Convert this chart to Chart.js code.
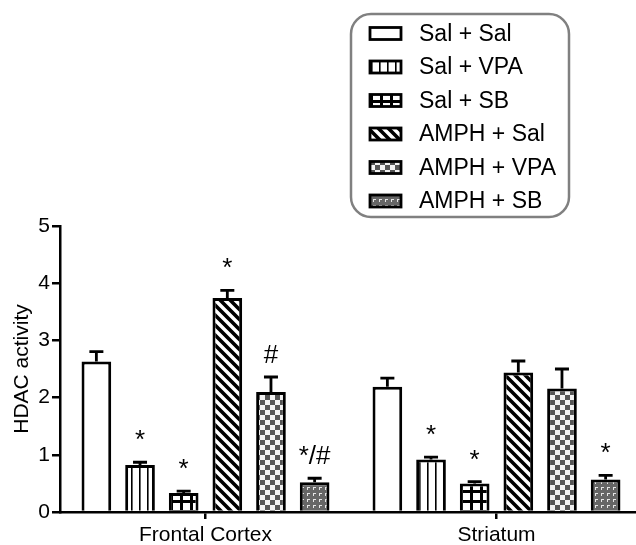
<!DOCTYPE html>
<html>
<head>
<meta charset="utf-8">
<script src="https://cdn.jsdelivr.net/npm/chart.js@4.4.1/dist/chart.umd.min.js"></script>
<style>
  body { margin: 0; background: #fff; overflow: hidden; }
  #wrap { width: 636px; height: 545px; overflow: hidden; }
</style>
</head>
<body>
<div id="wrap"><canvas id="myChart" width="642" height="545"></canvas></div>
<script>
'use strict';

// data

let regions = ['Frontal Cortex', 'Striatum'];
let groupNames = ['Sal + Sal', 'Sal + VPA', 'Sal + SB', 'AMPH + Sal', 'AMPH + VPA', 'AMPH + SB'];

// mean HDAC activity per group (frontal cortex, striatum)
let salSal = [2.63, 2.19];
let salVpa = [0.82, 0.92];
let salSb = [0.33, 0.50];
let amphSal = [3.74, 2.44];
let amphVpa = [2.10, 2.16];
let amphSb = [0.52, 0.57];

// upper error (SEM)
let salSalErr = [0.175, 0.15];
let salVpaErr = [0.05, 0.04];
let salSbErr = [0.035, 0.03];
let amphSalErr = [0.135, 0.2];
let amphVpaErr = [0.26, 0.34];
let amphSbErr = [0.07, 0.07];

// significance marks above the bars
let salSalMarks = ['', ''];
let salVpaMarks = ['*', '*'];
let salSbMarks = ['*', '*'];
let amphSalMarks = ['*', ''];
let amphVpaMarks = ['#', ''];
let amphSbMarks = ['*/#', '*'];

let yTicks = [0, 1, 2, 3, 4, 5];

let allMeans = [salSal, salVpa, salSb, amphSal, amphVpa, amphSb];
let allErrs = [salSalErr, salVpaErr, salSbErr, amphSalErr, amphVpaErr, amphSbErr];
let allMarks = [salSalMarks, salVpaMarks, salSbMarks, amphSalMarks, amphVpaMarks, amphSbMarks];

const fontFamily = 'Arial, "Liberation Sans", Helvetica, sans-serif';
Chart.defaults.font.family = fontFamily;
Chart.defaults.color = '#000';

// Dom References
let canvas = document.getElementById('myChart');
let ctx = canvas.getContext('2d');

// fill patterns, one small tile each
function makePattern(size, draw) {
  let tile = document.createElement('canvas');
  tile.width = size;
  tile.height = size;
  let t = tile.getContext('2d');
  draw(t, size);
  return ctx.createPattern(tile, 'repeat');
}

let patterns = [
  '#ffffff',
  // vertical lines
  makePattern(8, function (t, s) {
    t.fillStyle = '#fff'; t.fillRect(0, 0, s, s);
    t.fillStyle = '#000'; t.fillRect(3, 0, 1.6, s);
  }),
  // thick grid
  makePattern(10, function (t, s) {
    t.fillStyle = '#fff'; t.fillRect(0, 0, s, s);
    t.fillStyle = '#000';
    t.fillRect(0, 0, s, 3);
    t.fillRect(0, 0, 3, s);
  }),
  // diagonal stripes
  makePattern(10, function (t, s) {
    t.fillStyle = '#fff'; t.fillRect(0, 0, s, s);
    t.strokeStyle = '#000'; t.lineWidth = 3.6;
    t.beginPath();
    t.moveTo(-2, -2); t.lineTo(s + 2, s + 2);
    t.moveTo(-2, s - 2); t.lineTo(2, s + 2);
    t.moveTo(s - 2, -2); t.lineTo(s + 2, 2);
    t.stroke();
  }),
  // checkerboard
  makePattern(10, function (t, s) {
    t.fillStyle = '#f2f2f2'; t.fillRect(0, 0, s, s);
    t.fillStyle = '#555';
    t.fillRect(0, 0, 5, 5);
    t.fillRect(5, 5, 5, 5);
  }),
  // gray with small white marks
  makePattern(6, function (t, s) {
    t.fillStyle = '#666'; t.fillRect(0, 0, s, s);
    t.fillStyle = '#e6e6e6';
    t.fillRect(1, 1, 3, 1);
    t.fillRect(1, 1, 1, 3);
  })
];

let datasets = [];
for (let i = 0; i < groupNames.length; i++) {
  datasets.push({
    label: groupNames[i],
    data: allMeans[i],
    backgroundColor: patterns[i],
    borderColor: '#000',
    borderWidth: 3,
    borderSkipped: 'start',
    categoryPercentage: 0.9,
    barPercentage: 0.68
  });
}

// error bars and significance marks
const errorBarPlugin = {
  id: 'errorBars',
  afterDatasetsDraw(chart) {
    let c = chart.ctx;
    let yScale = chart.scales.y;
    c.save();
    c.strokeStyle = '#000';
    c.lineWidth = 2.8;
    c.fillStyle = '#000';
    c.font = '26px ' + fontFamily;
    c.textAlign = 'center';
    c.textBaseline = 'alphabetic';
    chart.data.datasets.forEach(function (ds, i) {
      let meta = chart.getDatasetMeta(i);
      meta.data.forEach(function (bar, j) {
        let top = yScale.getPixelForValue(allMeans[i][j] + allErrs[i][j]);
        c.beginPath();
        c.moveTo(bar.x, bar.y);
        c.lineTo(bar.x, top);
        c.moveTo(bar.x - 7, top);
        c.lineTo(bar.x + 7, top);
        c.stroke();
        if (allMarks[i][j]) {
          c.fillText(allMarks[i][j], bar.x, top - 14);
        }
      });
    });
    c.restore();
  }
};

// boxed legend in the top right
const legendBoxPlugin = {
  id: 'legendBox',
  afterDraw(chart) {
    let c = chart.ctx;
    c.save();
    c.strokeStyle = '#808080';
    c.lineWidth = 2.5;
    c.beginPath();
    c.roundRect(351, 14, 218, 203, 20);
    c.stroke();

    c.font = '23px ' + fontFamily;
    c.textBaseline = 'middle';
    c.textAlign = 'left';
    chart.data.datasets.forEach(function (ds, i) {
      let cy = 33.5 + i * 33.5;
      c.fillStyle = ds.backgroundColor;
      c.fillRect(370, cy - 6, 31, 12);
      c.strokeStyle = '#000';
      c.lineWidth = 2.8;
      c.strokeRect(370, cy - 6, 31, 12);
      c.fillStyle = '#000';
      c.fillText(ds.label, 419, cy + 1);
    });
    c.restore();
  }
};

let myChart = new Chart(ctx, {
  type: 'bar',
  data: {
    labels: regions,
    datasets: datasets
  },
  options: {
    responsive: false,
    animation: false,
    layout: {
      padding: { top: 226, right: 0, left: 0, bottom: 0 }
    },
    plugins: {
      legend: { display: false },
      tooltip: { enabled: false }
    },
    scales: {
      x: {
        grid: {
          offset: false,
          drawOnChartArea: false,
          tickLength: 7,
          color: '#000',
          lineWidth: 2.5
        },
        border: { color: '#000', width: 2.5 },
        ticks: {
          font: { size: 21 },
          padding: 4
        },
        afterFit(scale) {
          scale.height = 33;
        }
      },
      y: {
        min: 0,
        max: 5,
        afterBuildTicks(scale) {
          scale.ticks = yTicks.map(function (v) { return { value: v }; });
        },
        grid: {
          drawOnChartArea: false,
          tickLength: 8,
          color: '#000',
          lineWidth: 2.5
        },
        border: { color: '#000', width: 2.5 },
        ticks: {
          font: { size: 21 },
          padding: 2
        },
        title: {
          display: true,
          text: 'HDAC activity',
          font: { size: 21 },
          padding: { top: 10, bottom: 0 }
        },
        afterFit(scale) {
          scale.width = 60;
        }
      }
    }
  },
  plugins: [errorBarPlugin, legendBoxPlugin]
});
</script>
</body>
</html>
